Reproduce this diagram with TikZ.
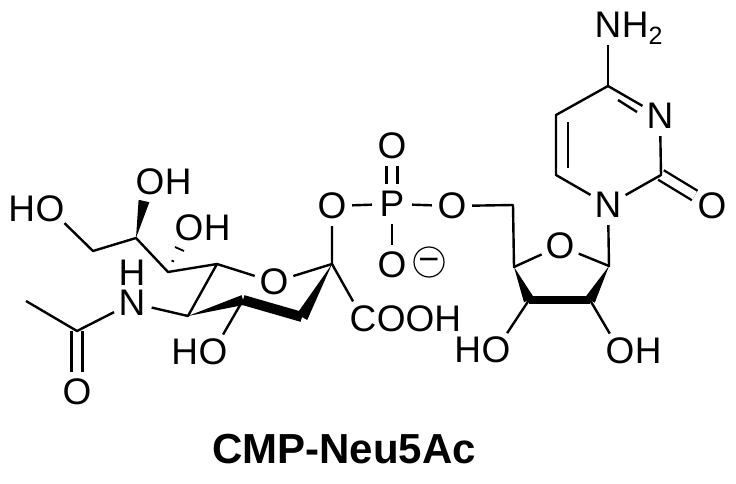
\documentclass[tikz,border=0pt]{standalone}
\usepackage{fontspec}
\setmainfont{Liberation Sans}
\usetikzlibrary{calc,positioning}
\tikzset{
    atom/.style={circle,inner sep=0pt,minimum size=40pt,font=\fontsize{37}{37}\selectfont},
    tail/.style={inner sep=0pt,font=\fontsize{37}{37}\selectfont},
    bond/.style={black,line width=2.4pt,line join=round},
    dbond/.style={bond,double,double distance=8.5pt},
    hash/.style={black,line width=1.8pt}
}
\newcommand{\wedgebond}[3]{\fill[black] (#1) -- ($(#2)!#3!90:(#1)$) -- ($(#2)!#3!-90:(#1)$) -- cycle;}

\begin{document}
\begin{tikzpicture}[x=1pt,y=-1pt]
        \useasboundingbox (0,0) rectangle (736,484);
        \fill[white] (0,0) rectangle (736,484);

        \node[atom] (o9) at (50,209) {O};
        \node[tail,left=-5.5pt of o9] (o9h) {H};
        \node[atom] (o8) at (150,182) {O};
        \node[tail,right=-5.5pt of o8] (o8h) {H};
        \node[atom] (o7) at (189,228) {O};
        \node[tail,right=-5.5pt of o7] (o7h) {H};
        \node[atom] (n5) at (132,303) {N};
        \node[tail,above=-3pt of n5] (n5h) {H};
        \node[atom] (oac) at (77,392) {O};
        \node[atom] (o4) at (213,352) {O};
        \node[tail,left=-5.5pt of o4] (o4h) {H};
        \node[atom] (o6) at (274,282) {O};
        \node[atom] (o2) at (332,206) {O};
        \node[atom] (c1) at (363,319) {C};
        \node[tail,right=-6.5pt of c1] (c1t) {OOH};

        \node[atom] (p) at (392,204) {P};
        \node[atom] (op) at (392,146) {O};
        \node[atom] (om) at (392,265) {O};
        \node[draw,circle,line width=1.2pt,inner sep=0pt,minimum size=30pt] (chg) at (429,262) {};
        \node[font=\fontsize{36}{36}\selectfont,inner sep=0pt,yshift=-3pt] (chgm) at (chg) {−};
        \node[atom] (o5p) at (452,206) {O};

        \node[atom] (o4p) at (560,246) {O};
        \node[atom] (o3p) at (496,350) {O};
        \node[tail,left=-5.5pt of o3p] (o3ph) {H};
        \node[atom] (o2p) at (620,351) {O};
        \node[tail,right=-5.5pt of o2p] (o2ph) {H};

        \node[atom] (n1) at (608,205) {N};
        \node[atom] (n3) at (660,116) {N};
        \node[atom] (o2c) at (712,206) {O};
        \node[atom] (n4) at (608,25) {N};
        \node[tail,right=-6.5pt of n4] (n4h) {H\smash{\raisebox{-7pt}{\fontsize{25}{25}\selectfont 2}}};

        \node[font=\fontsize{42}{42}\selectfont\bfseries] (title) at (344,449) {CMP-Neu5Ac};

        \coordinate (c9) at (93,251);
        \coordinate (c8) at (136,238);
        \coordinate (c8w) at (144,201);
        \coordinate (c7) at (168,272);
        \coordinate (c6) at (217,264);
        \coordinate (c5) at (188,316);
        \coordinate (c4) at (243,300);
        \coordinate (c3) at (302,317);
        \coordinate (c2) at (332,264);
        \coordinate (cac) at (77,331);
        \coordinate (cme) at (26,301);
        \coordinate (h1a) at (171.5,260.5);
        \coordinate (h1b) at (174,261.5);
        \coordinate (h2a) at (175,247);
        \coordinate (h2b) at (184,251);

        \coordinate (c5p) at (513,205);
        \coordinate (c4p) at (514,267);
        \coordinate (c3p) at (529,300);
        \coordinate (c2p) at (590,300);
        \coordinate (c1p) at (609,266);

        \coordinate (cy4) at (608,86);
        \coordinate (cy5) at (556,115);
        \coordinate (cy6) at (556,175);
        \coordinate (cy2) at (661,175);
        \coordinate (cy5i) at (568,122);
        \coordinate (cy6i) at (568,168);
        \coordinate (cy4i) at (618,100);
        \coordinate (n3i) at (637,112);

        \draw[dbond] (cac) -- (oac);
        \draw[dbond] (p) -- (op);
        \draw[dbond] (cy2) -- (o2c);

        \draw[bond] (o9) -- (c9) -- (c8) -- (c7) -- (c6) -- (o6);
        \draw[bond] (c6) -- (c5) -- (n5) -- (cac) -- (cme);
        \draw[bond] (c4) -- (o4);
        \draw[bond] (o6) -- (c2) -- (o2);
        \draw[bond] (c2) -- (c1);
        \draw[hash] (h1a) -- (h1b);
        \draw[hash] (h2a) -- (h2b);
        \wedgebond{c8}{c8w}{5.5pt}
        \wedgebond{c5}{c4}{5pt}
        \wedgebond{c2}{c3}{6pt}
        \draw[black,line width=10pt] (c4) -- (c3);

        \draw[bond] (o2) -- (p) -- (o5p) -- (c5p) -- (c4p) -- (o4p) -- (c1p) -- (n1);
        \draw[bond] (p) -- (om);
        \wedgebond{c4p}{c3p}{5.5pt}
        \wedgebond{c1p}{c2p}{5.5pt}
        \draw[black,line width=8pt] (c3p) -- (c2p);
        \draw[bond] (c3p) -- (o3p);
        \draw[bond] (c2p) -- (o2p);

        \draw[bond] (n1) -- (cy6) -- (cy5) -- (cy4) -- (n3) -- (cy2) -- (n1);
        \draw[bond] (cy4) -- (n4);
        \draw[bond] (cy5i) -- (cy6i);
        \draw[bond] (cy4i) -- (n3i);

    \end{tikzpicture}
\end{document}
